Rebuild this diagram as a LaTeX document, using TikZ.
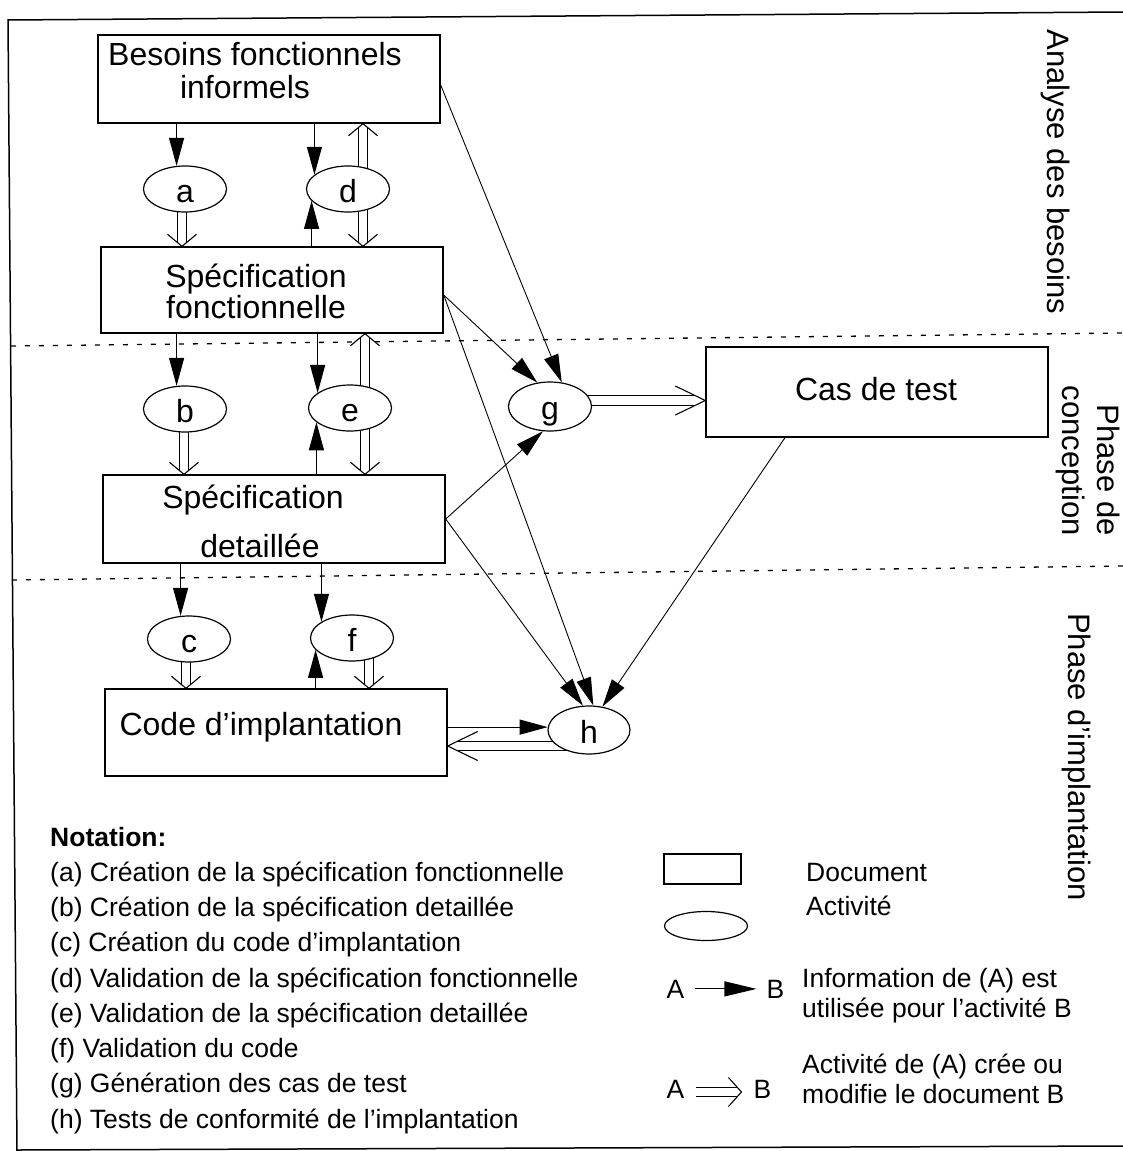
\documentclass[tikz,border=0pt]{standalone}
\usepackage{fontspec}
\setmainfont{Liberation Sans}
\usetikzlibrary{arrows.meta,shapes.geometric,calc,backgrounds,decorations.markings}

\tikzset{
  doc/.style={draw, fill=white, line width=1.4pt, minimum width=342pt, inner sep=0pt},
  act/.style={ellipse, draw, fill=white, line width=1.2pt, minimum width=83pt,
    minimum height=46pt, inner sep=0pt, font=\fontsize{32}{38}\selectfont,
    text height=28pt, text depth=2pt},
  doctext/.style={font=\fontsize{32}{38}\selectfont, inner sep=0pt, anchor=base},
  phase/.style={font=\fontsize{31}{35}\selectfont, rotate=-90, inner sep=0pt},
  legtext/.style={font=\fontsize{26.5}{35}\selectfont, inner sep=0pt, anchor=base west},
  info/.style={line width=1.1pt, -{Triangle[length=28pt,width=15pt]}},
  thinfo/.style={info, line width=0.9pt},
  % creates/modifies: double line ending in an open chevron
  dbl/.style={double, double distance=8.4pt, line width=1.1pt, shorten >=#1*0.33,
    postaction={decorate, decoration={markings, mark=at position 1 with
      {\draw[line width=1.1pt, shorten >=0pt, shorten <=0pt]
        (-#1,14.5pt) -- (0pt,0pt) -- (-#1,-14.5pt);}}}},
  dbl/.default=12pt,
  phasesep/.style={line width=1.3pt, dash pattern=on 5pt off 9pt},
  frameline/.style={line width=1.5pt}
}

\begin{document}
\begin{tikzpicture}[x=1pt, y=-1pt]
\useasboundingbox (0,0) rectangle (1123,1151);

% outer frame
\draw[frameline] (1123,12) -- (8,20) -- (17,1151);
\draw[frameline] (17,1150) -- (1123,1146);

% documents
\node[doc, minimum height=88pt] (bfi)  at (269,79)    {};
\node[doc, minimum height=86pt] (sf)   at (272,290)   {};
\node[doc, minimum height=88pt] (sd)   at (274,519)   {};
\node[doc, minimum height=87pt] (code) at (276,732.5) {};
\node[doc, minimum height=90pt] (cas)  at (877,392)   {};

\node[doctext] (bfi1)  at (255,65)  {Besoins fonctionnels};
\node[doctext] (bfi2)  at (245,98)  {informels};
\node[doctext] (sf1)   at (256,287) {Spécification};
\node[doctext] (sf2)   at (256,318) {fonctionnelle};
\node[doctext] (sd1)   at (253,508) {Spécification};
\node[doctext] (sd2)   at (260,557) {detaillée};
\node[doctext] (code1) at (261,735) {Code d’implantation};
\node[doctext] (cas1)  at (876,400) {Cas de test};

% activities
\node[act] (a) at (185,189) {a};
\node[act] (d) at (348,189) {d};
\node[act] (b) at (185,409) {b};
\node[act] (e) at (350,408) {e};
\node[act] (c) at (189,639) {c};
\node[act] (f) at (352,638) {f};
\node[act, minimum height=49pt] (g) at (550,406.5) {g};
\node[act, minimum width=82pt, minimum height=48pt] (h) at (589,730) {h};

\coordinate (gout) at ([yshift=6pt]g.center);
\coordinate (hret) at ([yshift=-16pt]h.center);

% phase labels
\node[phase] (ph1) at (1056,172) {Analyse des besoins};
\node[phase, align=right, anchor=east] (ph2) at (1088,536) {Phase de\\conception};
\node[phase] (ph3) at (1077,757) {Phase d’implantation};

\begin{scope}[on background layer]
  % phase separators
  \draw[phasesep] (11,346) -- (1123,333);
  \draw[phasesep] (12,580) -- (1123,566);

  % requirements analysis
  \draw[info] (bfi.south -| a.110) -- (a.110);
  \draw[dbl] ($(a.center)+(-3,0)$) -- ($(a.center |- sf.north)+(-3,0)$);
  \draw[info] (bfi.south -| d.157) -- (d.157);
  \draw[info] (sf.north -| d.198) -- (d.198);
  \draw[dbl] ($(d.center)+(15,0)$) -- ($(d.center |- bfi.south)+(15,0)$);
  \draw[dbl] ($(d.center)+(15,0)$) -- ($(d.center |- sf.north)+(15,0)$);

  % design
  \draw[info] (sf.south -| b.110) -- (b.110);
  \draw[dbl] ($(b.center)+(-1,0)$) -- ($(b.center |- sd.north)+(-1,0)$);
  \draw[info] (sf.south -| e.155) -- (e.155);
  \draw[info] (sd.north -| e.203) -- (e.203);
  \draw[dbl] ($(e.center)+(15,0)$) -- ($(e.center |- sf.south)+(15,0)$);
  \draw[dbl] ($(e.center)+(15,0)$) -- ($(e.center |- sd.north)+(15,0)$);

  % implementation
  \draw[info] (sd.south -| c.110) -- (c.110);
  \draw[dbl] ($(c.center)+(-3,0)$) -- ($(c.center |- code.north)+(-3,0)$);
  \draw[info] (sd.south -| f.152) -- (f.152);
  \draw[info] (code.north -| f.198) -- (f.198);
  \draw[dbl] ($(f.center)+(17,0)$) -- ($(f.center |- code.north)+(17,0)$);

  % test case generation
  \draw[thinfo] ([yshift=-6pt]bfi.east) -- (g.64);
  \draw[thinfo] ([yshift=-5pt]sf.east) -- (g.118);
  \draw[thinfo] (sd.east) -- (g.254);
  \draw[dbl=30pt] (gout) -- (gout -| cas.west);

  % conformance testing
  \draw[thinfo] ([yshift=-5pt]sf.east) -- (h.80);
  \draw[thinfo] (sd.east) -- (h.104);
  \draw[thinfo] ([xshift=-92pt]cas.south) -- (h.60);
  \draw[info] (code.east |- h.176) -- (h.176);
  \draw[dbl=30pt] (hret) -- (hret -| code.east);
\end{scope}

% notation
\node[legtext, font=\bfseries\fontsize{26.5}{35}\selectfont] (nt) at (50,846) {Notation:};
\foreach \t [count=\i] in {
  {(a) Création de la spécification fonctionnelle},
  {(b) Création de la spécification detaillée},
  {(c) Création du code d’implantation},
  {(d) Validation de la spécification fonctionnelle},
  {(e) Validation de la spécification detaillée},
  {(f) Validation du code},
  {(g) Génération des cas de test},
  {(h) Tests de conformité de l’implantation}}
  \node[legtext] (n\i) at (50,{846+35.25*\i}) {\t};

% key
\node[draw, line width=1.2pt, minimum width=77pt, minimum height=30pt, inner sep=0pt] (docsym) at (702.5,869) {};
\node[ellipse, draw, line width=1.2pt, minimum width=83pt, minimum height=29pt, inner sep=0pt] (actsym) at (706,926) {};
\node[legtext] (docl) at (806,881) {Document};
\node[legtext] (actl) at (806,915) {Activité};

\node[legtext, anchor=base] (ia) at (675.5,998) {A};
\node[legtext, anchor=base] (ib) at (775.5,998) {B};
\draw[info, -{Triangle[length=32pt,width=15pt]}, shorten <=10pt, shorten >=10pt] (ia.east) -- (ib.west);
\node[legtext] (il1) at (802,987) {Information de (A) est};
\node[legtext] (il2) at (802,1017) {utilisée pour l’activité B};

\node[legtext, anchor=base] (ca) at (675.5,1098) {A};
\node[legtext, anchor=base] (cb) at (762.5,1098) {B};
\draw[dbl=13pt] ($(ca.base east)+(11,-6)$) -- ($(cb.base west)+(-12,-6)$);
\node[legtext] (cl1) at (802,1073) {Activité de (A) crée ou};
\node[legtext] (cl2) at (802,1103) {modifie le document B};
\end{tikzpicture}
\end{document}
